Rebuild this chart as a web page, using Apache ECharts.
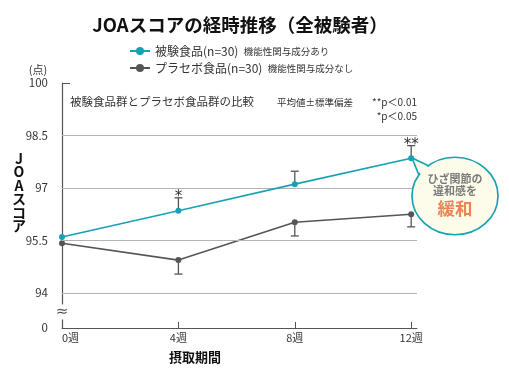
<!DOCTYPE html>
<html><head><meta charset="utf-8">
<script src="https://cdn.jsdelivr.net/npm/echarts@6/dist/echarts.min.js"></script>
<style>html,body{margin:0;padding:0;background:#fff}#c{width:509px;height:383px}</style>
</head><body><div id="c"></div>
<script>
const weeks = [0, 4, 8, 12];
const weekLabels = ['0週', '4週', '8週', '12週'];
const testMean = [95.6, 96.35, 97.11, 97.85];
const testSD = [0, 0.37, 0.37, 0.36];
const testSig = ['', '*', '', '**'];
const placeboMean = [95.42, 94.94, 96.02, 96.25];
const placeboSD = [0, 0.40, 0.39, 0.36];
const yTickValues = [93, 94, 95.5, 97, 98.5, 100];
const yTickLabels = ['0', '94', '95.5', '97', '98.5', '100'];
const gridValues = [94, 95.5, 97, 98.5];
const seriesNames = ['被験食品(n=30)', 'プラセボ食品(n=30)'];
const seriesNotes = ['機能性関与成分あり', '機能性関与成分なし'];

const FONT = '"Noto Sans CJK JP", "Noto Sans", sans-serif';
const CYAN = '#17a2b4';
const GRAY = '#555555';

function errSeries(name, mean, sd, dir, color, sig) {
  return {
    type: 'custom', name: name + '_err', z: 3, silent: true,
    data: weeks.map((w, i) => [w, mean[i], sd[i]]),
    renderItem(params, api) {
      const x = api.value(0), m = api.value(1), s = api.value(2);
      const children = [];
      const p0 = api.coord([x, m]);
      const p1 = api.coord([x, m + dir * s]);
      if (s) {
        children.push({type: 'line', shape: {x1: p0[0], y1: p0[1], x2: p1[0], y2: p1[1]}, style: {stroke: color, lineWidth: 1.3}});
        children.push({type: 'line', shape: {x1: p1[0] - 4, y1: p1[1], x2: p1[0] + 4, y2: p1[1]}, style: {stroke: color, lineWidth: 1.3}});
      }
      const sg = sig ? sig[params.dataIndex] : '';
      if (sg) {
        children.push({type: 'text', x: p1[0], y: p1[1] - 1, style: {text: sg, font: '15px "DejaVu Sans", sans-serif', fill: '#333', align: 'center', verticalAlign: 'middle'}});
      }
      return {type: 'group', children};
    }
  };
}

const chart = echarts.init(document.getElementById('c'));
chart.setOption({
  animation: false,
  textStyle: {fontFamily: FONT},
  grid: {left: 62, top: 83, width: 355, height: 245},
  legend: {
    left: 124, top: 40, orient: 'vertical', itemGap: 5, itemWidth: 20, itemHeight: 10,
    data: seriesNames,
    formatter: name => '{a|' + name + '}  {b|' + seriesNotes[seriesNames.indexOf(name)] + '}',
    textStyle: {fontFamily: FONT, rich: {a: {fontSize: 12, color: '#333', fontFamily: FONT}, b: {fontSize: 9.5, color: '#333', fontFamily: FONT}}}
  },
  xAxis: {
    type: 'value', min: 0, max: 12.2,
    axisLine: {lineStyle: {color: GRAY, width: 1.2}},
    axisTick: {customValues: [4, 8, 12], inside: true, length: 6, lineStyle: {color: GRAY}},
    axisLabel: {customValues: weeks, formatter: v => weekLabels[weeks.indexOf(v)], color: '#333', fontSize: 11, margin: 4, alignMinLabel: 'left'},
    splitLine: {show: false}
  },
  yAxis: {
    type: 'value', min: 93, max: 100,
    axisLine: {show: true, lineStyle: {color: GRAY, width: 1.2}},
    axisTick: {show: true, customValues: [100], inside: true, length: 8, lineStyle: {color: GRAY}},
    axisLabel: {customValues: yTickValues, formatter: v => yTickLabels[yTickValues.indexOf(v)], color: '#333', fontSize: 11.5, margin: 14},
    splitLine: {show: false}
  },
  series: [
    {type: 'line', name: '_grid', data: [], silent: true, z: 1,
     markLine: {silent: true, symbol: 'none', label: {show: false}, lineStyle: {color: '#b4b4b4', type: 'solid', width: 1},
       data: gridValues.map(v => ({yAxis: v}))}},
    errSeries('test', testMean, testSD, 1, GRAY, testSig),
    errSeries('placebo', placeboMean, placeboSD, -1, GRAY, null),
    {type: 'line', name: seriesNames[1], data: weeks.map((w, i) => [w, placeboMean[i]]), z: 4,
     symbol: 'circle', symbolSize: 6, color: GRAY, lineStyle: {color: GRAY, width: 1.6}, itemStyle: {color: GRAY}},
    {type: 'line', name: seriesNames[0], data: weeks.map((w, i) => [w, testMean[i]]), z: 5,
     symbol: 'circle', symbolSize: 6, color: CYAN, lineStyle: {color: CYAN, width: 1.6}, itemStyle: {color: CYAN}}
  ],
  graphic: [
    {type: 'text', x: 240, y: 25, style: {text: 'JOAスコアの経時推移（全被験者）', font: 'bold 18.5px ' + FONT, fill: '#111', align: 'center', verticalAlign: 'middle'}},
    {type: 'text', x: 38, y: 70, style: {text: '(点)', font: '11px ' + FONT, fill: '#333', align: 'center', verticalAlign: 'middle'}},
    {type: 'text', x: 19, y: 192, style: {text: 'J\nO\nA\nス\nコ\nア', font: 'bold 14px ' + FONT, lineHeight: 13.5, fill: '#111', align: 'center', verticalAlign: 'middle'}},
    {type: 'text', x: 195, y: 357, style: {text: '摂取期間', font: 'bold 13px ' + FONT, fill: '#111', align: 'center', verticalAlign: 'middle'}},
    {type: 'text', x: 70, y: 102, style: {text: '被験食品群とプラセボ食品群の比較', font: '11.5px ' + FONT, fill: '#333', align: 'left', verticalAlign: 'middle'}},
    {type: 'text', x: 277, y: 102, style: {text: '平均値±標準偏差', font: '9.5px ' + FONT, fill: '#333', align: 'left', verticalAlign: 'middle'}},
    {type: 'text', x: 417, y: 102, style: {text: '**p＜0.01', font: '10px ' + FONT, fill: '#333', align: 'right', verticalAlign: 'middle'}},
    {type: 'text', x: 417, y: 116, style: {text: '*p＜0.05', font: '10px ' + FONT, fill: '#333', align: 'right', verticalAlign: 'middle'}},
    {type: 'text', x: 62, y: 312, z: 10, style: {text: '≈', font: '15px "DejaVu Sans", sans-serif', fill: GRAY, align: 'center', verticalAlign: 'middle', backgroundColor: '#fff'}},
    {type: 'circle', z: 20, x: 455, y: 196, scaleY: 0.9, shape: {cx: 0, cy: 0, r: 43}, style: {fill: '#fdfbea', stroke: CYAN, lineWidth: 1.7}},
    {type: 'polygon', z: 21, shape: {points: [[420.5, 174], [412, 158], [429, 167.5], [440, 175], [430, 185]]}, style: {fill: '#fdfbea'}},
    {type: 'polyline', z: 22, shape: {points: [[418.9, 175], [412, 158], [428.5, 165.7]]}, style: {stroke: CYAN, lineWidth: 1.7, fill: null}},
    {type: 'text', z: 23, x: 455, y: 179, style: {text: 'ひざ関節の', font: 'bold 11px ' + FONT, fill: '#7a7a7a', align: 'center', verticalAlign: 'middle'}},
    {type: 'text', z: 23, x: 455, y: 191, style: {text: '違和感を', font: 'bold 11px ' + FONT, fill: '#7a7a7a', align: 'center', verticalAlign: 'middle'}},
    {type: 'text', z: 23, x: 455, y: 208, style: {text: '緩和', font: 'bold 17.5px ' + FONT, fill: '#ef8354', align: 'center', verticalAlign: 'middle'}}
  ]
});
</script>
</body></html>
